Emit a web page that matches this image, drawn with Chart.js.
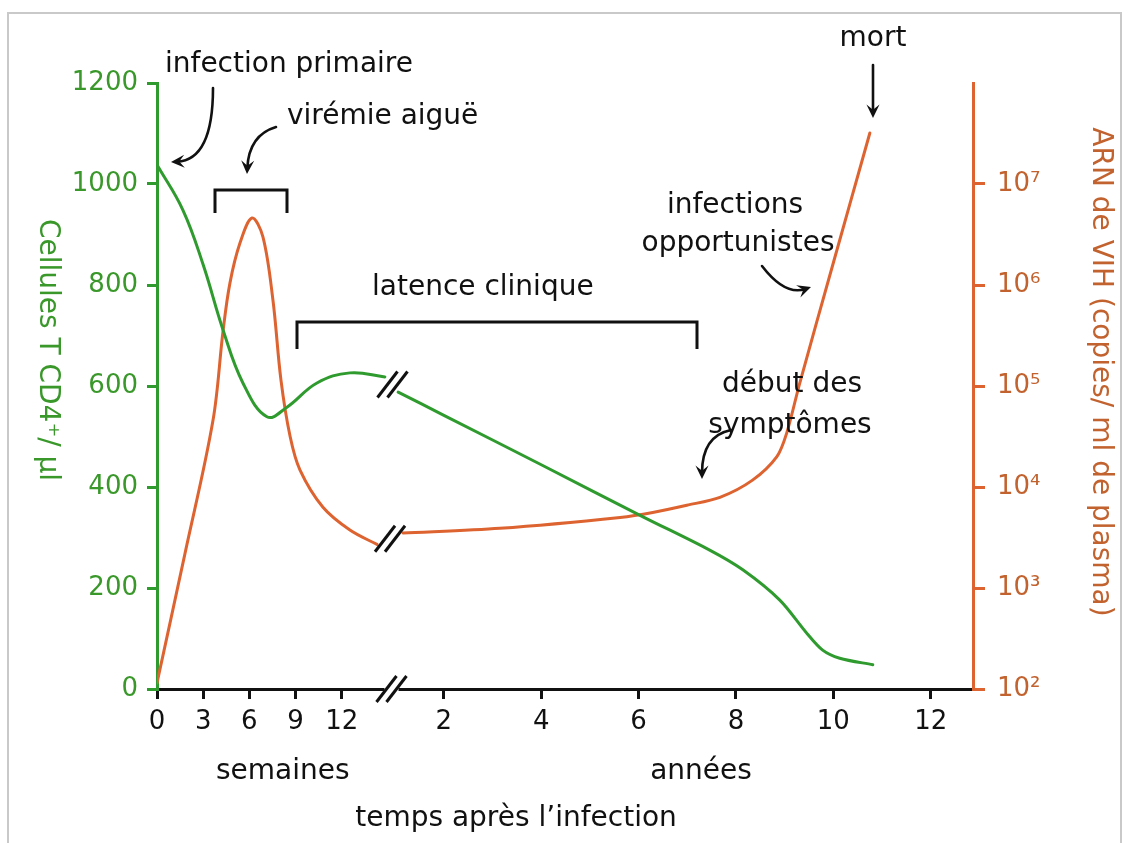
<!DOCTYPE html>
<html><head><meta charset="utf-8">
<script src="https://cdn.jsdelivr.net/npm/chart.js@4.4.1/dist/chart.umd.min.js"></script>
<style>html,body{margin:0;padding:0;background:#fff;}canvas{display:block;}</style>
</head><body>
<canvas id="c" width="1128" height="843"></canvas>
<script>
// ---------- DATA ----------
// CD4+ T cells / µl, first phase (x in weeks)
const cd4WeeksX = [0, 1.69, 3.0, 4.29, 5.58, 7.14, 8.44, 10.39, 12.53, 14.8];
const cd4WeeksY = [1038, 948, 840, 711, 606, 539, 558, 606, 626, 618];
// CD4+ T cells / µl, second phase (x in years)
const cd4YearsX = [1.06, 2, 4, 6.09, 7.46, 8.14, 8.9, 9.45, 9.78, 10.13, 10.81];
const cd4YearsY = [588, 542, 444, 341, 275, 236, 176, 111, 77, 61, 48];
// HIV RNA copies / ml plasma, first phase (weeks)
const vlWeeksX = [0, 1.82, 3.64, 4.29, 4.74, 5.39, 6.17, 6.88, 7.53, 8.05, 8.64, 9.29, 10.78, 12.53, 14.29];
const vlWeeksY = [115, 2200, 46000, 350000, 1050000, 2600000, 4600000, 3000000, 710000, 115000, 32000, 14700, 6300, 3750, 2700];
// HIV RNA copies / ml plasma, second phase (years)
const vlYearsX = [1.16, 3.15, 5.62, 6.29, 6.99, 7.67, 8.34, 8.84, 9.04, 9.31, 10.0, 10.75];
const vlYearsY = [3500, 3900, 5000, 5600, 6600, 7900, 11700, 20000, 34000, 107000, 1660000, 32000000];
// tick labels
const weekTicks = [0, 3, 6, 9, 12];
const yearTicks = [2, 4, 6, 8, 10, 12];
const cd4Min = 0, cd4Max = 1200, cd4Step = 200;
const vlTicks = [1e2, 1e3, 1e4, 1e5, 1e6, 1e7];
const vlTickLabels = ['10\u00B2', '10\u00B3', '10\u2074', '10\u2075', '10\u2076', '10\u2077'];

// ---------- AXIS MAPPING (broken time axis: weeks | years) ----------
const YEAR_OFFSET = 12.31, YEAR_UNIT = 3.162, X_MAX = 53.0;
const wk = w => w;
const yr = y => YEAR_OFFSET + YEAR_UNIT * y;

// ---------- STYLE ----------
const FONT = '"DejaVu Sans", "Liberation Sans", sans-serif';
const GREEN = '#2f9b2f', GREEN_TXT = '#3a982b';
const ORANGE = '#dd6330', ORANGE_TXT = '#c2622e';
const INK = '#111111';

const pts = (xs, ys, f) => xs.map((x, i) => ({x: f(x), y: ys[i]}));
const xTickVals = [...weekTicks.map(wk), ...yearTicks.map(yr)];
const xTickLabels = [...weekTicks, ...yearTicks].map(String);

function head(c, x, y, a) {
  const L = 15, s = 0.45;
  c.beginPath(); c.moveTo(x, y);
  c.lineTo(x - L * Math.cos(a - s), y - L * Math.sin(a - s));
  c.lineTo(x - 0.55 * L * Math.cos(a), y - 0.55 * L * Math.sin(a));
  c.lineTo(x - L * Math.cos(a + s), y - L * Math.sin(a + s));
  c.closePath(); c.fill();
}
function curveArrow(c, x0, y0, cx, cy, x1, y1) {
  const a = Math.atan2(y1 - cy, x1 - cx);
  c.beginPath(); c.moveTo(x0, y0);
  c.quadraticCurveTo(cx, cy, x1 - 6 * Math.cos(a), y1 - 6 * Math.sin(a)); c.stroke();
  head(c, x1, y1, a);
}
function slashes(c, cx, cy) {
  c.save(); c.strokeStyle = INK; c.lineWidth = 3; c.lineCap = 'butt';
  for (const off of [-5, 5]) {
    c.beginPath(); c.moveTo(cx + off - 10, cy + 13); c.lineTo(cx + off + 10, cy - 13); c.stroke();
  }
  c.restore();
}

const decor = {
  id: 'decor',
  beforeDraw(chart) {
    const c = chart.ctx;
    c.save();
    c.fillStyle = '#fff'; c.fillRect(0, 0, chart.width, chart.height);
    c.strokeStyle = '#c9c9c9'; c.lineWidth = 2;
    c.strokeRect(8, 13, 1113, 845);
    c.restore();
  },
  afterDraw(chart) {
    const c = chart.ctx, xs = chart.scales.x, ys = chart.scales.y, vs = chart.scales.y2;
    c.save();
    // break on the time axis
    const uBreak = (wk(cd4WeeksX[cd4WeeksX.length - 1]) + yr(cd4YearsX[0])) / 2;
    const bx = xs.getPixelForValue(uBreak), by = chart.chartArea.bottom;
    c.fillStyle = '#fff'; c.fillRect(bx - 7, by - 3, 14, 6);
    slashes(c, bx, by);
    // break on the CD4 curve
    {
      const ax = xs.getPixelForValue(wk(cd4WeeksX[cd4WeeksX.length - 1])), ay = ys.getPixelForValue(cd4WeeksY[cd4WeeksY.length - 1]);
      const bx2 = xs.getPixelForValue(yr(cd4YearsX[0])), by2 = ys.getPixelForValue(cd4YearsY[0]);
      slashes(c, (ax + bx2) / 2 + 1, (ay + by2) / 2);
    }
    // break on the viral load curve
    {
      const ax = xs.getPixelForValue(wk(vlWeeksX[vlWeeksX.length - 1])), ay = vs.getPixelForValue(vlWeeksY[vlWeeksY.length - 1]);
      const bx2 = xs.getPixelForValue(yr(vlYearsX[0])), by2 = vs.getPixelForValue(vlYearsY[0]);
      slashes(c, (ax + bx2) / 2, (ay + by2) / 2);
    }

    // axis titles (rotated, reading top to bottom)
    c.font = '28px ' + FONT; c.textAlign = 'center'; c.textBaseline = 'middle';
    c.save(); c.translate(47, 350); c.rotate(Math.PI / 2);
    c.fillStyle = GREEN_TXT; c.fillText('Cellules T CD4\u207A/ \u00B5l', 0, 0); c.restore();
    c.save(); c.translate(1100, 372); c.rotate(Math.PI / 2);
    c.fillStyle = ORANGE_TXT; c.fillText('ARN de VIH (copies/ ml de plasma)', 0, 0); c.restore();

    // annotation texts
    c.fillStyle = INK; c.textBaseline = 'alphabetic';
    c.textAlign = 'left';
    c.fillText('infection primaire', 165, 72);
    c.fillText('virémie aiguë', 287, 124);
    c.fillText('latence clinique', 372, 295);
    c.fillText('semaines', 216, 779);
    c.textAlign = 'center';
    c.fillText('infections', 735, 213);
    c.fillText('opportunistes', 738, 251);
    c.fillText('début des', 792, 392);
    c.fillText('symptômes', 790, 433);
    c.fillText('mort', 873, 46);
    c.fillText('années', 701, 779);
    c.fillText('temps après l\u2019infection', 516, 826);

    // brackets
    c.strokeStyle = INK; c.lineWidth = 3; c.lineJoin = 'miter';
    c.beginPath(); c.moveTo(215, 213); c.lineTo(215, 190); c.lineTo(287, 190); c.lineTo(287, 213); c.stroke();
    c.beginPath(); c.moveTo(297, 349); c.lineTo(297, 322); c.lineTo(697, 322); c.lineTo(697, 349); c.stroke();

    // arrows
    c.fillStyle = INK; c.lineWidth = 2.6; c.lineCap = 'round';
    curveArrow(c, 213, 88, 213, 160, 171, 162);
    curveArrow(c, 276, 127, 249, 135, 247, 174);
    curveArrow(c, 762, 266, 785, 296, 811, 287);
    curveArrow(c, 731, 430, 702, 436, 702, 479);
    c.beginPath(); c.moveTo(873, 65); c.lineTo(873, 110); c.stroke();
    head(c, 873, 118, Math.PI / 2);
    c.restore();
  }
};

const lineDs = (label, data, color, axis, tension) => ({
  label, data, yAxisID: axis, borderColor: color, borderWidth: 3,
  pointRadius: 0, fill: false, tension, borderCapStyle: 'round', borderJoinStyle: 'round'
});

new Chart(document.getElementById('c'), {
  type: 'line',
  data: {
    datasets: [
      lineDs('CD4 (semaines)', pts(cd4WeeksX, cd4WeeksY, wk), GREEN, 'y', 0.4),
      lineDs('CD4 (années)', pts(cd4YearsX, cd4YearsY, yr), GREEN, 'y', 0.3),
      lineDs('ARN VIH (semaines)', pts(vlWeeksX, vlWeeksY, wk), ORANGE, 'y2', 0.35),
      lineDs('ARN VIH (années)', pts(vlYearsX, vlYearsY, yr), ORANGE, 'y2', 0.3)
    ]
  },
  options: {
    responsive: false, animation: false, devicePixelRatio: 1,
    layout: {padding: {top: 83, left: 0, right: 0, bottom: 0}},
    plugins: {legend: {display: false}, tooltip: {enabled: false}, title: {display: false}},
    scales: {
      x: {
        type: 'linear', position: 'bottom', min: 0, max: X_MAX,
        afterBuildTicks: s => { s.ticks = xTickVals.map(v => ({value: v})); },
        afterFit: s => { s.height = 154; },
        ticks: {autoSkip: false, maxRotation: 0, padding: 8, color: INK,
          font: {family: FONT, size: 26}, callback: (v, i) => xTickLabels[i]},
        grid: {drawOnChartArea: false, drawTicks: true, tickLength: 10, color: INK, lineWidth: 3},
        border: {display: true, color: INK, width: 3}
      },
      y: {
        type: 'linear', position: 'left', min: cd4Min, max: cd4Max,
        ticks: {stepSize: cd4Step, padding: 9, color: GREEN_TXT, font: {family: FONT, size: 26},
          callback: v => String(v)},
        afterFit: s => { s.width = 157; },
        grid: {drawOnChartArea: false, drawTicks: true, tickLength: 10, color: GREEN, lineWidth: 3},
        border: {display: true, color: GREEN, width: 3}
      },
      y2: {
        type: 'logarithmic', position: 'right', min: 1e2, max: 1e8,
        afterBuildTicks: s => { s.ticks = vlTicks.map(v => ({value: v})); },
        afterFit: s => { s.width = 155; },
        ticks: {padding: 12, color: ORANGE_TXT, font: {family: FONT, size: 26},
          callback: (v, i) => vlTickLabels[i]},
        grid: {drawOnChartArea: false, drawTicks: true, tickLength: 12, color: ORANGE, lineWidth: 3},
        border: {display: true, color: ORANGE, width: 3}
      }
    }
  },
  plugins: [decor]
});
</script>
</body></html>
